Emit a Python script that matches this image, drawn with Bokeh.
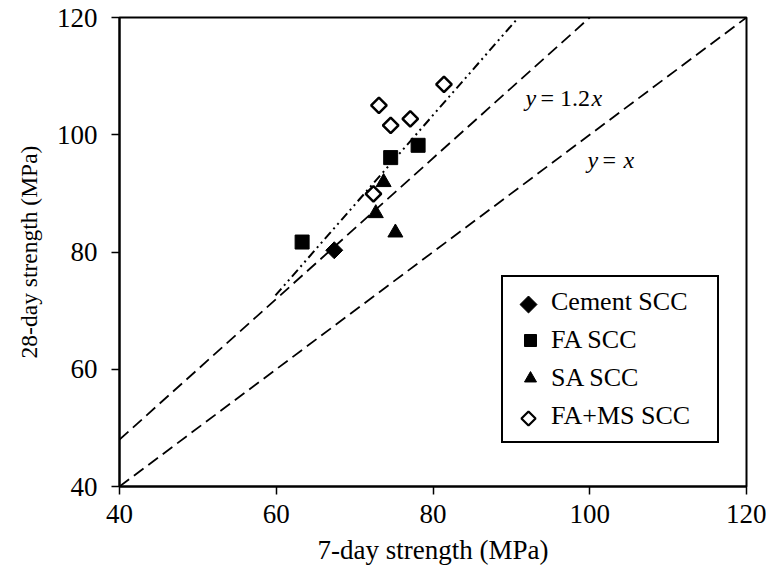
from bokeh.plotting import figure
from bokeh.models import Legend, LegendItem, Label, FixedTicker
from bokeh.embed import file_html
from bokeh.resources import INLINE

# ---- data ----
cement_x = [67.4]
cement_y = [80.3]
fa_x = [63.3, 74.6, 78.1]
fa_y = [81.7, 96.1, 98.2]
sa_x = [73.7, 72.7, 75.2]
sa_y = [91.9, 86.6, 83.3]
fams_x = [73.1, 74.6, 77.1, 81.4, 72.4]
fams_y = [105.0, 101.6, 102.7, 108.6, 89.9]

line_eq_x = [40, 120]
line_eq_y = [40, 120]
line_12_x = [40, 100]
line_12_y = [48, 120]
trend_x = [59.9, 90.9]
trend_y = [72.6, 120.0]

ticks = [40, 60, 80, 100, 120]
labels = ["Cement SCC", "FA SCC", "SA SCC", "FA+MS SCC"]

FONT = "Liberation Serif"

# ---- layout ----
FL, FT, FW, FH = 119, 17, 627, 469
XR, YR = (40, 120), (40, 120)

def to_data(px, py):
    return (XR[0] + (px - FL) * (XR[1] - XR[0]) / FW,
            YR[1] - (py - FT) * (YR[1] - YR[0]) / FH)

p = figure(width=766, height=570, x_range=XR, y_range=YR,
           output_backend="svg", toolbar_location=None,
           min_border_left=FL, min_border_top=FT, min_border_right=20, min_border_bottom=84)
p.frame_width = FW
p.frame_height = FH

p.grid.visible = False
p.outline_line_color = "black"
p.outline_line_width = 2
p.outline_line_alpha = 1
p.background_fill_color = "white"
p.border_fill_color = "white"

for ax in (p.xaxis[0], p.yaxis[0]):
    ax.ticker = FixedTicker(ticks=ticks)
    ax.axis_line_width = 2
    ax.axis_line_color = "black"
    ax.major_tick_in = 0
    ax.major_tick_out = 8
    ax.major_tick_line_width = 1.5
    ax.minor_tick_line_color = None
    ax.major_label_text_font = FONT
    ax.major_label_text_font_size = "27px"
    ax.major_label_text_color = "black"
    ax.axis_label_text_font = FONT
    ax.axis_label_text_font_style = "normal"
    ax.axis_label_text_color = "black"

p.xaxis.axis_label = "7-day strength (MPa)"
p.yaxis.axis_label = "28-day strength (MPa)"
p.xaxis.axis_label_text_font_size = "27px"
p.yaxis.axis_label_text_font_size = "23.5px"
p.xaxis.major_label_standoff = 10
p.yaxis.major_label_standoff = 14
p.xaxis.axis_label_standoff = 9
p.yaxis.axis_label_standoff = 12

# reference lines
p.line(line_eq_x, line_eq_y, line_color="black", line_width=1.8, line_dash="12 6")
p.line(line_12_x, line_12_y, line_color="black", line_width=1.8, line_dash="12 6")
p.line(trend_x, trend_y, line_color="black", line_width=2, line_dash="9 4 2 4 2 4")

# markers
DIAG = 0.785398
r1 = p.scatter(cement_x, cement_y, marker="square", angle=DIAG, size=12,
               fill_color="black", line_color="black")
r2 = p.scatter(fa_x, fa_y, marker="square", size=14, fill_color="black", line_color="black")
r3 = p.scatter(sa_x, sa_y, marker="triangle", size=15, fill_color="black", line_color="black")
r4 = p.scatter(fams_x, fams_y, marker="square", angle=DIAG, size=11,
               fill_color="white", line_color="black", line_width=2.5)

# invisible stand-ins for the rotated markers in the legend (legend ignores angle)
d1 = p.scatter([], [], marker="square", size=1, fill_alpha=0, line_alpha=0)
d4 = p.scatter([], [], marker="square", size=1, fill_alpha=0, line_alpha=0)

LOC_X, LOC_Y = 382, 43
PAD, GW, GH, SP, STANDOFF, LW = 10, 34, 30, 8, 4, 156
legend = Legend(items=[LegendItem(label=labels[0], renderers=[d1]),
                       LegendItem(label=labels[1], renderers=[r2]),
                       LegendItem(label=labels[2], renderers=[r3]),
                       LegendItem(label=labels[3], renderers=[d4])],
                location=(LOC_X, LOC_Y))
legend.label_text_font = FONT
legend.label_text_font_size = "26px"
legend.label_text_color = "black"
legend.border_line_color = "black"
legend.border_line_alpha = 1
legend.border_line_width = 2
legend.padding = PAD
legend.spacing = SP
legend.label_height = GH
legend.glyph_height = GH
legend.glyph_width = GW
legend.label_width = LW
legend.label_standoff = STANDOFF
legend.margin = 0
legend.background_fill_alpha = 0
p.add_layout(legend, "center")

# rotated legend markers drawn at the legend rows
n = len(labels)
box_bottom = FT + FH - LOC_Y
box_top = box_bottom - (2 * PAD + n * GH + (n - 1) * SP)
gx = FL + LOC_X + PAD + GW / 2
row_y = [box_top + PAD + GH / 2 + i * (GH + SP) for i in range(n)]
lx0, ly0 = to_data(gx, row_y[0])
lx3, ly3 = to_data(gx, row_y[3])
p.scatter([lx0], [ly0], marker="square", angle=DIAG, size=12,
          fill_color="black", line_color="black")
p.scatter([lx3], [ly3], marker="square", angle=DIAG, size=10,
          fill_color="white", line_color="black", line_width=2.2)

# line labels
def lab(x, y, xo, text, italic):
    p.add_layout(Label(x=x, y=y, x_offset=xo, text=text, text_font=FONT,
                       text_font_size="24px", text_color="black",
                       text_font_style="italic" if italic else "normal",
                       text_baseline="alphabetic"))

ax1, ay1 = to_data(525, 97)
lab(ax1, ay1, 0, "y", True)
lab(ax1, ay1, 15, "= 1.2", False)
lab(ax1, ay1, 66, "x", True)
ax2, ay2 = to_data(587, 159)
lab(ax2, ay2, 0, "y", True)
lab(ax2, ay2, 15, "=", False)
lab(ax2, ay2, 36, "x", True)

open("out.html", "w").write(file_html(p, INLINE))
